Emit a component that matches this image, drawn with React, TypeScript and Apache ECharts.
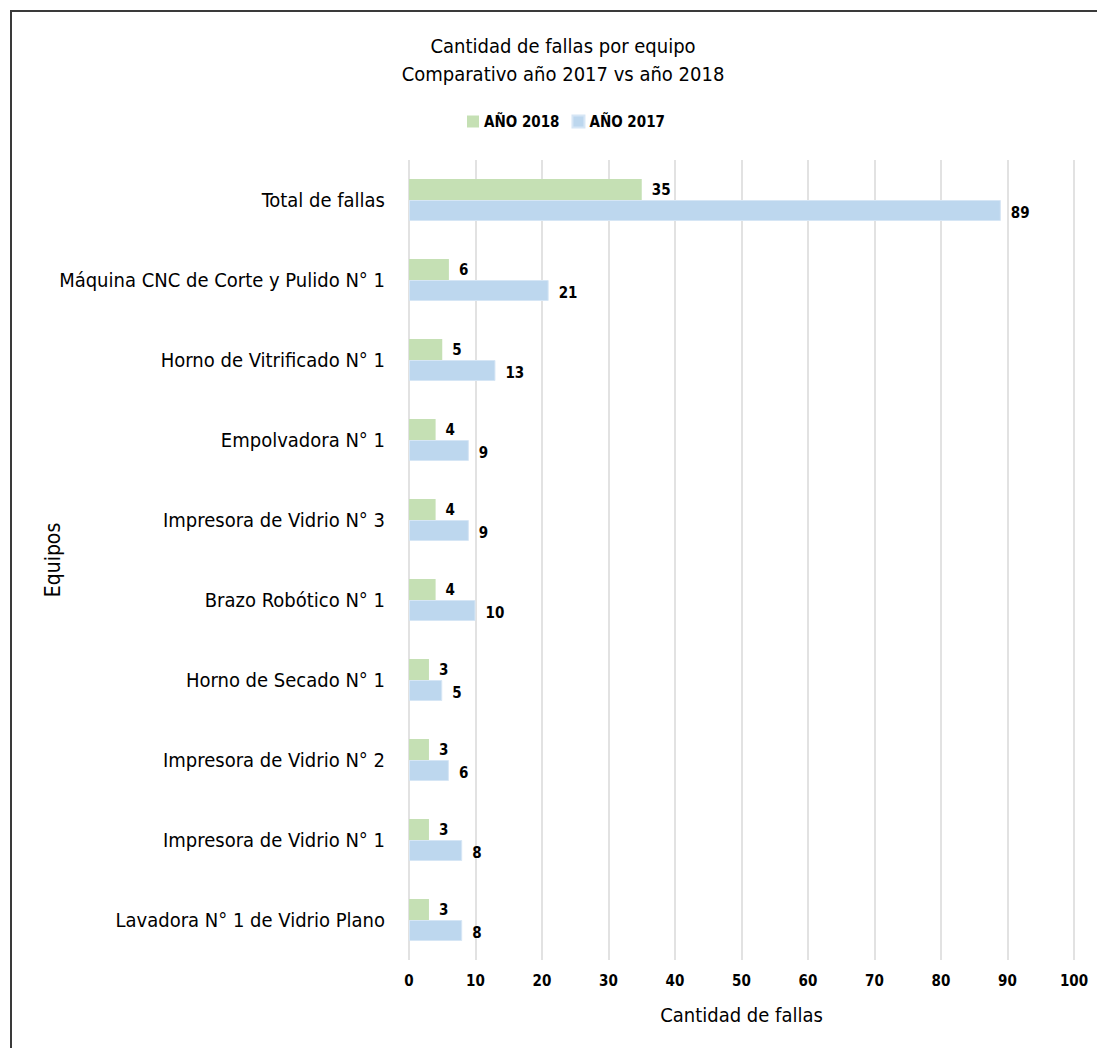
import React, { useEffect, useRef } from "react";
import * as echarts from "echarts";

// Equipment names, listed bottom-to-top as the category axis draws them
const equipos = [
  "Lavadora N° 1 de Vidrio Plano",
  "Impresora de Vidrio N° 1",
  "Impresora de Vidrio N° 2",
  "Horno de Secado N° 1",
  "Brazo Robótico N° 1",
  "Impresora de Vidrio N° 3",
  "Empolvadora N° 1",
  "Horno de Vitrificado N° 1",
  "Máquina CNC de Corte y Pulido N° 1",
  "Total de fallas",
];

const fallas2018 = [3, 3, 3, 3, 4, 4, 4, 5, 6, 35];
const fallas2017 = [8, 8, 6, 5, 10, 9, 9, 13, 21, 89];

const xTicks = [0, 10, 20, 30, 40, 50, 60, 70, 80, 90, 100];

const FONT = "'DejaVu Sans Condensed', 'Liberation Sans Narrow', sans-serif";

export default function App() {
  const ref = useRef<HTMLDivElement>(null);

  useEffect(() => {
    if (!ref.current) return;
    const chart = echarts.init(ref.current, null, { renderer: "svg" });
    chart.setOption({
      animation: false,
      backgroundColor: "#ffffff",
      textStyle: { fontFamily: FONT, color: "#000" },
      graphic: [
        {
          type: "rect",
          shape: { x: 11, y: 11, width: 1100, height: 1050 },
          style: { fill: "none", stroke: "#3a3a3a", lineWidth: 2 },
          silent: true,
        },
      ],
      title: {
        text: "Cantidad de fallas por equipo\nComparativo año 2017 vs año 2018",
        left: 558,
        top: 27,
        textAlign: "center",
        textStyle: {
          fontFamily: FONT,
          fontSize: 20,
          fontWeight: "normal",
          color: "#000",
          lineHeight: 28,
        },
      },
      legend: {
        data: ["AÑO 2018", "AÑO 2017"],
        left: 462,
        top: 109,
        itemWidth: 12,
        itemHeight: 12,
        itemGap: 12,
        icon: "rect",
        textStyle: { fontFamily: FONT, fontSize: 15, fontWeight: "bold", color: "#000" },
      },
      grid: {
        left: 409,
        right: 23,
        top: 160,
        bottom: 88,
        containLabel: false,
        outerBoundsMode: "none",
      },
      xAxis: {
        type: "value",
        min: 0,
        max: xTicks[xTicks.length - 1],
        interval: 10,
        name: "Cantidad de fallas",
        nameLocation: "middle",
        nameGap: 45,
        nameMoveOverlap: false,
        nameTextStyle: { fontFamily: FONT, fontSize: 20, color: "#000" },
        axisLine: { show: false },
        axisTick: { show: false },
        axisLabel: { fontFamily: FONT, fontSize: 15, fontWeight: "bold", color: "#000", margin: 13 },
        splitLine: { show: true, lineStyle: { color: "#d9d9d9", width: 1.5 } },
      },
      yAxis: {
        type: "category",
        data: equipos,
        name: "Equipos",
        nameLocation: "middle",
        nameGap: 346,
        nameRotate: 90,
        nameMoveOverlap: false,
        nameTextStyle: { fontFamily: FONT, fontSize: 21, color: "#000" },
        axisLine: { show: false },
        axisTick: { show: false },
        axisLabel: { fontFamily: FONT, fontSize: 20, color: "#000", margin: 24 },
        splitLine: { show: false },
      },
      series: [
        {
          name: "AÑO 2018",
          type: "bar",
          data: fallas2018,
          barWidth: 21,
          barGap: "0%",
          itemStyle: { color: "#c5e0b4" },
          label: {
            show: true,
            position: "right",
            distance: 10,
            fontFamily: FONT,
            fontSize: 15,
            fontWeight: "bold",
            color: "#000",
          },
        },
        {
          name: "AÑO 2017",
          type: "bar",
          data: fallas2017,
          barWidth: 21,
          barGap: "0%",
          itemStyle: { color: "#bdd7ee", borderColor: "#d6e6f5", borderWidth: 1 },
          label: {
            show: true,
            position: "right",
            distance: 10,
            fontFamily: FONT,
            fontSize: 15,
            fontWeight: "bold",
            color: "#000",
            offset: [0, 2],
          },
        },
      ],
    });
    return () => chart.dispose();
  }, []);

  return (
    <div
      ref={ref}
      style={{ position: "fixed", left: 0, top: 0, width: 1097, height: 1048 }}
    />
  );
}
